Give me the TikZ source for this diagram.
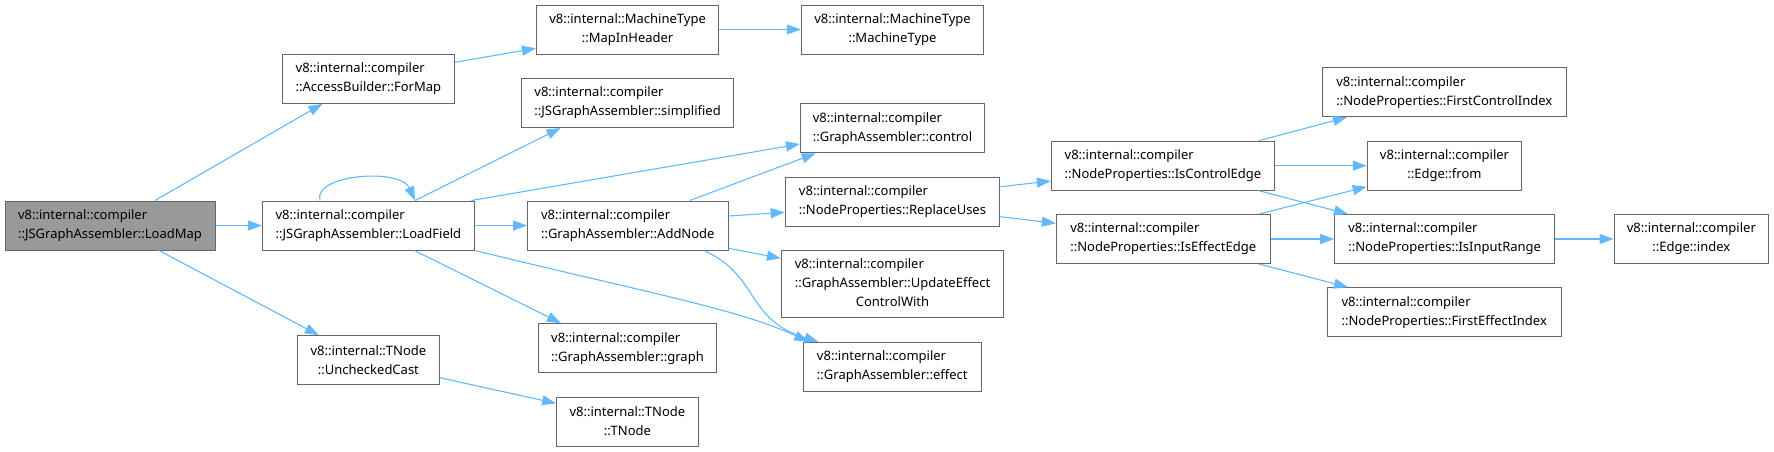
\documentclass[tikz,border=0pt]{standalone}
\usepackage{fontspec}
\setmainfont{Noto Sans}
\usepackage{xcolor}
\usepackage{tikz}
\usetikzlibrary{arrows.meta,calc}
\definecolor{callcol}{HTML}{63B8FF}
\definecolor{boxcol}{HTML}{666666}
\definecolor{curcol}{HTML}{999999}

\tikzset{
  fnbox/.style={draw=boxcol,line width=1pt,fill=white,inner sep=0pt,minimum height=49,
    align=left,font=\fontsize{13}{19}\selectfont},
  curbox/.style={fnbox,fill=curcol},
  call/.style={draw=callcol,line width=1.1pt,-{Triangle[length=14pt,width=10pt]}},
}

\begin{document}
\begin{tikzpicture}[x=1pt,y=-1pt]
  \useasboundingbox (0,0) rectangle (1774,451);
  \node[curbox,minimum width=210] (loadmap) at (110,225.5) {v8::internal::compiler\\::JSGraphAssembler::LoadMap};
  \node[fnbox,minimum width=172] (formap) at (368.4,78.8) {v8::internal::compiler\\::AccessBuilder::ForMap};
  \node[fnbox,minimum width=212] (loadfield) at (368.4,225.5) {v8::internal::compiler\\::JSGraphAssembler::LoadField};
  \node[fnbox,align=center,minimum width=142] (uncheckedcast) at (368.4,360.2) {v8::internal::TNode\\::UncheckedCast};
  \node[fnbox,align=center,minimum width=182.5] (mapinheader) at (627.6,29.5) {v8::internal::MachineType\\::MapInHeader};
  \node[fnbox,align=center,minimum width=182.5] (machinetype) at (892.5,29.5) {v8::internal::MachineType\\::MachineType};
  \node[fnbox,minimum width=211.6] (simplified) at (627.6,103) {v8::internal::compiler\\::JSGraphAssembler::simplified};
  \node[fnbox,minimum width=200.5] (addnode) at (627.8,225.5) {v8::internal::compiler\\::GraphAssembler::AddNode};
  \node[fnbox,minimum width=177.5] (graph) at (627.5,348.2) {v8::internal::compiler\\::GraphAssembler::graph};
  \node[fnbox,align=center,minimum width=141.6] (tnode) at (627.4,421.5) {v8::internal::TNode\\::TNode};
  \node[fnbox,minimum width=184] (control) at (892.5,128.3) {v8::internal::compiler\\::GraphAssembler::control};
  \node[fnbox,minimum width=214.7] (replaceuses) at (892.5,201.5) {v8::internal::compiler\\::NodeProperties::ReplaceUses};
  \node[fnbox,minimum width=222.3,minimum height=67.4] (updateeffect) at (892.5,284)
    {\begin{tabular}{@{}l@{}}v8::internal::compiler\\::GraphAssembler::UpdateEffect\\\multicolumn{1}{@{}c@{}}{ControlWith}\end{tabular}};
  \node[fnbox,minimum width=177.5] (effect) at (892.3,366.7) {v8::internal::compiler\\::GraphAssembler::effect};
  \node[fnbox,minimum width=223] (iscontroledge) at (1162.9,165.7) {v8::internal::compiler\\::NodeProperties::IsControlEdge};
  \node[fnbox,minimum width=213.7] (iseffectedge) at (1163.2,239) {v8::internal::compiler\\::NodeProperties::IsEffectEdge};
  \node[fnbox,minimum width=244] (firstcontrolindex) at (1444.3,92.2) {v8::internal::compiler\\::NodeProperties::FirstControlIndex};
  \node[fnbox,align=center,minimum width=154.5] (edgefrom) at (1444.5,165.7) {v8::internal::compiler\\::Edge::from};
  \node[fnbox,minimum width=220] (isinputrange) at (1444.7,239) {v8::internal::compiler\\::NodeProperties::IsInputRange};
  \node[fnbox,align=center,minimum width=154.5] (edgeindex) at (1691.3,239) {v8::internal::compiler\\::Edge::index};
  \node[fnbox,minimum width=234] (firsteffectindex) at (1444.2,312.2) {v8::internal::compiler\\::NodeProperties::FirstEffectIndex};

  \draw[call] ($(loadmap.north)+(45,0)$) -- ($(formap.south)+(-46,0)$);
  \draw[call] (loadmap) -- (loadfield);
  \draw[call] ($(loadmap.south)+(49,0)$) -- ($(uncheckedcast.north)+(-49.6,0)$);
  \draw[call] ($(formap.east)+(0,-16.5)$) -- ($(mapinheader.west)+(0,18.8)$);
  \draw[call] (mapinheader) -- (machinetype);
  \draw[call] ($(loadfield.north)+(-48.4,0)$) .. controls ($(loadfield.north)+(-56,-26)$) and ($(loadfield.north)+(32,-33)$) .. ($(loadfield.north)+(46.6,0)$);
  \draw[call] ($(loadfield.north)+(46.6,0)$) -- ($(simplified.south)+(-67,0)$);
  \draw[call] ($(loadfield.north east)+(-3.5,0)$) -- ($(control.west)+(0,15.7)$);
  \draw[call] (loadfield) -- (addnode);
  \draw[call] ($(loadfield.south)+(46,0)$) -- ($(graph.north)+(-66.5,0)$);
  \draw[call] (loadfield.south east) .. controls ($(loadfield.south east)+(176,43)$) and ($(effect.north)+(-152,-32)$) .. ($(effect.north)+(-84,0)$);
  \draw[call] ($(uncheckedcast.east)+(0,17.5)$) -- ($(tnode.west)+(0,-18.2)$);
  \draw[call] ($(addnode.north)+(62,0)$) -- ($(control.south)+(-76.8,0)$);
  \draw[call] ($(addnode.east)+(0,-9.5)$) -- ($(replaceuses.west)+(0,10.8)$);
  \draw[call] ($(addnode.east)+(0,22.8)$) -- ($(updateeffect.west)+(0,-25.7)$);
  \draw[call] ($(addnode.south)+(76,0)$) .. controls ($(addnode.south)+(132,25)$) and ($(effect.north)+(-147,-22)$) .. ($(effect.north)+(-74,0)$);
  \draw[call] ($(replaceuses.east)+(0,-14.8)$) -- ($(iscontroledge.west)+(0,15.3)$);
  \draw[call] ($(replaceuses.east)+(0,15.2)$) -- ($(iseffectedge.west)+(0,-15.7)$);
  \draw[call] ($(iscontroledge.north)+(96,0)$) -- ($(firstcontrolindex.south)+(-97.3,0)$);
  \draw[call] (iscontroledge) -- (edgefrom);
  \draw[call] ($(iscontroledge.south)+(96,0)$) -- ($(isinputrange.north)+(-96.7,0)$);
  \draw[call] ($(iseffectedge.north)+(95.8,0)$) -- ($(edgefrom.west)+(0,21)$);
  \draw[call] (iseffectedge) -- (isinputrange);
  \draw[call] ($(iseffectedge.south)+(95.8,0)$) -- ($(firsteffectindex.north)+(-96.2,0)$);
  \draw[call] (isinputrange) -- (edgeindex);
\end{tikzpicture}
\end{document}
